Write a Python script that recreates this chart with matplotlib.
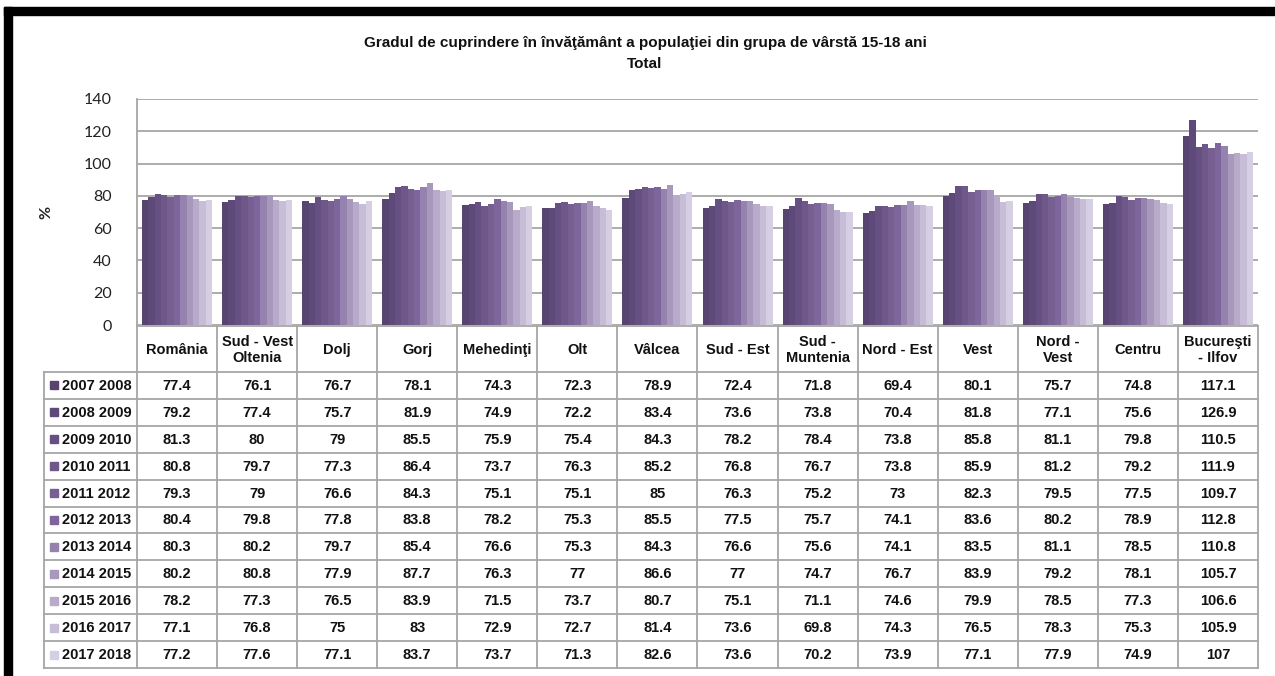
import matplotlib
matplotlib.use("Agg")
import matplotlib.pyplot as plt
from matplotlib.patches import Rectangle
import numpy as np

categories = ["România", "Sud - Vest\nOltenia", "Dolj", "Gorj", "Mehedinţi", "Olt", "Vâlcea",
              "Sud - Est", "Sud -\nMuntenia", "Nord - Est", "Vest", "Nord -\nVest", "Centru",
              "Bucureşti\n- Ilfov"]
series_labels = ["2007 2008", "2008 2009", "2009 2010", "2010 2011", "2011 2012", "2012 2013",
                 "2013 2014", "2014 2015", "2015 2016", "2016 2017", "2017 2018"]

s2007 = [77.4, 76.1, 76.7, 78.1, 74.3, 72.3, 78.9, 72.4, 71.8, 69.4, 80.1, 75.7, 74.8, 117.1]
s2008 = [79.2, 77.4, 75.7, 81.9, 74.9, 72.2, 83.4, 73.6, 73.8, 70.4, 81.8, 77.1, 75.6, 126.9]
s2009 = [81.3, 80, 79, 85.5, 75.9, 75.4, 84.3, 78.2, 78.4, 73.8, 85.8, 81.1, 79.8, 110.5]
s2010 = [80.8, 79.7, 77.3, 86.4, 73.7, 76.3, 85.2, 76.8, 76.7, 73.8, 85.9, 81.2, 79.2, 111.9]
s2011 = [79.3, 79, 76.6, 84.3, 75.1, 75.1, 85, 76.3, 75.2, 73, 82.3, 79.5, 77.5, 109.7]
s2012 = [80.4, 79.8, 77.8, 83.8, 78.2, 75.3, 85.5, 77.5, 75.7, 74.1, 83.6, 80.2, 78.9, 112.8]
s2013 = [80.3, 80.2, 79.7, 85.4, 76.6, 75.3, 84.3, 76.6, 75.6, 74.1, 83.5, 81.1, 78.5, 110.8]
s2014 = [80.2, 80.8, 77.9, 87.7, 76.3, 77, 86.6, 77, 74.7, 76.7, 83.9, 79.2, 78.1, 105.7]
s2015 = [78.2, 77.3, 76.5, 83.9, 71.5, 73.7, 80.7, 75.1, 71.1, 74.6, 79.9, 78.5, 77.3, 106.6]
s2016 = [77.1, 76.8, 75, 83, 72.9, 72.7, 81.4, 73.6, 69.8, 74.3, 76.5, 78.3, 75.3, 105.9]
s2017 = [77.2, 77.6, 77.1, 83.7, 73.7, 71.3, 82.6, 73.6, 70.2, 73.9, 77.1, 77.9, 74.9, 107]
series_values = [s2007, s2008, s2009, s2010, s2011, s2012, s2013, s2014, s2015, s2016, s2017]

colors = ["#574470", "#5E4A7A", "#665082", "#6E5889", "#775F92", "#7E659B",
          "#9582AF", "#A898BC", "#B8ABCA", "#C7BDD6", "#D6CEE2"]

yticks = [0, 20, 40, 60, 80, 100, 120, 140]
title_line1 = "Gradul de cuprindere în învăţământ a populaţiei din grupa de vârstă 15-18 ani"
title_line2 = "Total"

W, H = 1275, 676
fig = plt.figure(figsize=(W / 100, H / 100), dpi=100)
narrow = ["Liberation Sans", "DejaVu Sans"]
tickfont = ["Lato", "DejaVu Sans"]
grid_c = "#A6A6A6"
txt_c = "#111111"

def fx(px):
    return px / W

def fy(py):
    return 1 - py / H

# chart area
L, R, T, B = 137, 1258, 99, 325
ax = fig.add_axes([fx(L), fy(B), fx(R - L), (B - T) / H])
n_cat = len(categories)
n_ser = len(series_values)
group_w = 0.875
bw = group_w / n_ser
x = np.arange(n_cat)
for i, (vals, c) in enumerate(zip(series_values, colors)):
    ax.bar(x - group_w / 2 + bw * (i + 0.5), vals, width=bw, color=c, linewidth=0, zorder=3)
ax.set_xlim(-0.5, n_cat - 0.5)
ax.set_ylim(0, 140)
ax.set_yticks(yticks)
ax.set_yticklabels([str(v) for v in yticks], fontsize=11.5, family=tickfont, color="#222222")
ax.tick_params(axis="y", length=0, pad=18)
ax.tick_params(axis="x", length=0, labelbottom=False)
ax.grid(axis="y", color=grid_c, linewidth=1.3, zorder=0)
for s in ["top", "right", "bottom"]:
    ax.spines[s].set_visible(False)
ax.spines["left"].set_color(grid_c)
ax.spines["left"].set_linewidth(1.3)

fig.text(fx(46), fy(212), "%", rotation=90, ha="center", va="center", fontsize=11.5,
         fontweight="bold", family=tickfont, color="#222222")

# title
fig.text(fx(645), fy(43), title_line1, ha="center", va="center", fontsize=11,
         fontweight="bold", family=narrow, color=txt_c)
fig.text(fx(645), fy(64), title_line2, ha="center", va="center", fontsize=11,
         fontweight="bold", family=narrow, color=txt_c)

# data table
TL, TT, TB = 44, 326, 668
hdr_h = 46
row_h = (TB - TT - hdr_h) / n_ser
cat_px = (R - L) / n_cat
tax = fig.add_axes([fx(TL), fy(TB), fx(R - TL), (TB - TT) / H])
x_left = -0.5 - (L - TL) / cat_px
tax.set_xlim(x_left, n_cat - 0.5)
tax.set_ylim(TB - TT, 0)
tax.axis("off")
lw = 1.3
tax.plot([-0.5, n_cat - 0.5], [0, 0], color=grid_c, lw=lw, clip_on=False)
for r in range(n_ser + 1):
    yy = hdr_h + r * row_h
    tax.plot([x_left, n_cat - 0.5], [yy, yy], color=grid_c, lw=lw, clip_on=False)
for k in range(n_cat + 1):
    tax.plot([k - 0.5, k - 0.5], [0, TB - TT], color=grid_c, lw=lw, clip_on=False)
tax.plot([x_left, x_left], [hdr_h, TB - TT], color=grid_c, lw=lw, clip_on=False)

fs = 10.5
for k, cat in enumerate(categories):
    tax.text(k, hdr_h / 2 + 1, cat, ha="center", va="center", fontsize=fs, fontweight="bold",
             family=narrow, linespacing=1.2, color=txt_c)
for r, (lab, vals, c) in enumerate(zip(series_labels, series_values, colors)):
    yc = hdr_h + (r + 0.5) * row_h
    sq = 8 / cat_px
    tax.add_patch(Rectangle((x_left + 6 / cat_px, yc - 4), sq, 8, color=c, clip_on=False))
    tax.text(x_left + 18 / cat_px, yc + 0.5, lab, ha="left", va="center", fontsize=fs,
             fontweight="bold", family=narrow, color=txt_c)
    for k, v in enumerate(vals):
        tax.text(k, yc + 0.5, f"{v:g}", ha="center", va="center", fontsize=fs,
                 fontweight="bold", family=narrow, color=txt_c)

# black frame (top and left)
fig.add_artist(Rectangle((fx(4), fy(15)), 1, (15 - 7) / H, color="black", transform=fig.transFigure))
fig.add_artist(Rectangle((fx(4), 0), (12 - 4) / W, fy(7), color="black", transform=fig.transFigure))

fig.savefig("out.png", dpi=100)
